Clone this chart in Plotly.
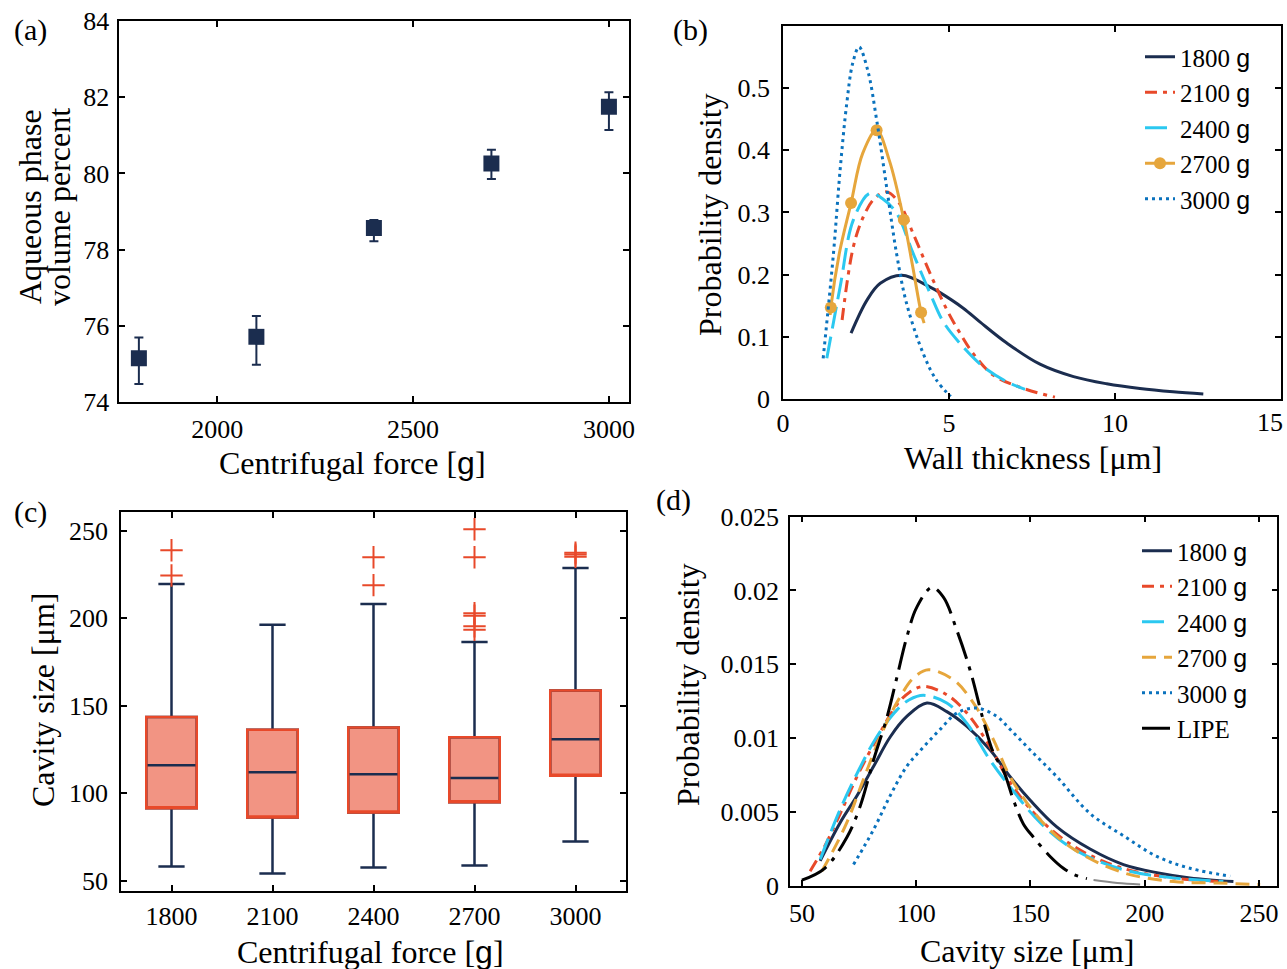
import plotly.graph_objects as go

W, H = 1287, 969
FONT = "Liberation Serif, Times New Roman, serif"
NAVY = "#1b2d4f"
RED = "#e8492a"
CYAN = "#2bc8f0"
ORANGE = "#e6a63c"
BLUE = "#0a72bd"
SALMON = "#f29483"
G = "<span style='font-family:Liberation Sans'>g</span>"

# ---------------- (a) aqueous phase volume percent ----------------
FORCE = [1800, 2100, 2400, 2700, 3000]
AQ_MEAN = [75.15, 75.71, 78.57, 80.26, 81.75]
AQ_UPPER = [75.69, 76.26, 78.78, 80.62, 82.13]
AQ_LOWER = [74.47, 74.98, 78.22, 79.85, 81.14]

# ---------------- (b) wall thickness pdf ----------------
B_XTICKS = [0, 5, 10, 15]
B1800_X = [2.05, 2.53, 2.93, 3.58, 4.43, 4.73, 5.43, 5.93, 6.74, 7.74, 8.75, 9.75, 10.75, 11.75, 12.66]
B1800_Y = [0.106, 0.159, 0.186, 0.199, 0.180, 0.171, 0.146, 0.124, 0.090, 0.056, 0.036, 0.0245, 0.0168, 0.0115, 0.0080]
B2100_X = [1.78, 2.12, 2.42, 2.75, 3.12, 3.5, 3.92, 4.43, 4.94, 5.33, 5.73, 6.33, 7.23, 8.19]
B2100_Y = [0.127, 0.245, 0.293, 0.322, 0.333, 0.315, 0.266, 0.202, 0.143, 0.106, 0.073, 0.0386, 0.0172, 0.003]
B2400_X = [1.32, 1.72, 2.12, 2.62, 3.0, 3.42, 3.92, 4.43, 4.83, 5.33, 6.03, 6.74, 7.29]
B2400_Y = [0.0654, 0.18, 0.288, 0.331, 0.322, 0.299, 0.234, 0.17, 0.124, 0.0895, 0.052, 0.0278, 0.0156]
B2700_X = [1.42, 1.44, 1.7, 2.05, 2.4, 2.82, 3.2, 3.64, 3.9, 4.16, 4.25]
B2700_Y = [0.135, 0.147, 0.235, 0.315, 0.395, 0.432, 0.384, 0.288, 0.215, 0.139, 0.122]
B2700_MX = [1.44, 2.05, 2.82, 3.64, 4.16]
B2700_MY = [0.147, 0.315, 0.432, 0.288, 0.139]
B3000_X = [1.21, 1.52, 1.72, 1.92, 2.1, 2.29, 2.55, 2.82, 3.12, 3.42, 3.72, 4.22, 4.62, 5.05]
B3000_Y = [0.0654, 0.234, 0.368, 0.475, 0.54, 0.566, 0.529, 0.449, 0.341, 0.234, 0.154, 0.0735, 0.0305, 0.004]

# ---------------- (c) cavity size box plot ----------------
CATS = ["1800", "2100", "2400", "2700", "3000"]
Q1 = [91.4, 86.0, 88.9, 94.8, 110.0]
MED = [116.0, 112.0, 110.8, 108.7, 130.8]
Q3 = [143.6, 136.2, 137.5, 132.0, 158.7]
WLO = [58.0, 54.0, 57.4, 58.6, 72.3]
WHI = [219.7, 196.4, 208.2, 186.5, 228.8]
OUT_X = ["1800", "1800", "2400", "2400", "2700", "2700", "2700", "2700", "2700", "2700", "3000", "3000", "3000"]
OUT_Y = [239.0, 224.5, 235.0, 219.0, 251.0, 235.0, 203.0, 201.5, 195.5, 193.5, 237.6, 236.5, 235.3]

# ---------------- (d) cavity size pdf ----------------
D1800_X = [58, 66.8, 74.1, 81.4, 88.7, 95.9, 104.7, 113.4, 122.2, 132.4, 141.1, 149.9, 161.5, 176.1, 190.7, 205.3, 219.8, 238.8]
D1800_Y = [0.0017, 0.0043, 0.0061, 0.0081, 0.0101, 0.01147, 0.01238, 0.0118, 0.0108, 0.0092, 0.0074, 0.0058, 0.0040, 0.0025, 0.00145, 0.0009, 0.00055, 0.0003]
D2100_X = [53.6, 60, 66.8, 74.1, 84.3, 91.5, 97, 103.2, 113.4, 122.2, 132.4, 141.1, 154.2, 168.8, 183.5, 198, 215, 232]
D2100_Y = [0.001, 0.0027, 0.0049, 0.0074, 0.0104, 0.01226, 0.0131, 0.0135, 0.01294, 0.0117, 0.0094, 0.0070, 0.0045, 0.0027, 0.00157, 0.0009, 0.0005, 0.0003]
D2400_X = [58, 66.8, 74.1, 82.8, 91.5, 97, 103.2, 113.4, 122.2, 132.4, 141.1, 154.2, 168.8, 190.7, 212.6, 234.4]
D2400_Y = [0.0018, 0.0052, 0.0076, 0.0101, 0.0119, 0.0126, 0.0129, 0.01238, 0.011, 0.0085, 0.0067, 0.0043, 0.0025, 0.0011, 0.00055, 0.0003]
D2700_X = [58.7, 63, 69.7, 76.9, 85.7, 93.0, 99, 105.4, 116.3, 125.1, 133.8, 141.1, 154.2, 168.8, 190.7, 212.6, 232, 250.5]
D2700_Y = [0.001, 0.0022, 0.0043, 0.0072, 0.0106, 0.0128, 0.0141, 0.01463, 0.01395, 0.01238, 0.0099, 0.0074, 0.0045, 0.0025, 0.0009, 0.0003, 0.0002, 0.0001]
D3000_X = [72.6, 81.3, 88.6, 95.9, 103.2, 110.5, 117.8, 126.5, 135.3, 141.1, 149.9, 161.5, 176.1, 190.7, 205.3, 219.8, 237.4]
D3000_Y = [0.00145, 0.0038, 0.0061, 0.0081, 0.0094, 0.0106, 0.0117, 0.01204, 0.01147, 0.0106, 0.0092, 0.0074, 0.0049, 0.0034, 0.002, 0.0012, 0.00066]
LIPE_X = [50, 60, 69.7, 75.5, 81.3, 87.2, 91.6, 95.9, 100.3, 106.9, 111.9, 117.8, 123.6, 129.4, 133.8, 138.2, 142.6, 146.9, 151.3, 158.6, 164.4, 169.6, 174.7]
LIPE_Y = [0.0004, 0.0012, 0.0033, 0.0054, 0.0085, 0.0114, 0.01414, 0.01684, 0.01887, 0.0202, 0.01955, 0.0173, 0.0146, 0.0112, 0.009, 0.0078, 0.0058, 0.0042, 0.0033, 0.002, 0.0012, 0.00074, 0.0005]
LIPE_TAIL_X = [177.6, 188, 198]
LIPE_TAIL_Y = [0.0004, 0.0002, 0.0001]


def px(x):
    return x / W


def py(y):
    return 1 - y / H


fig = go.Figure()

# (a)
fig.add_trace(go.Scatter(
    x=FORCE, y=AQ_MEAN, mode="markers", xaxis="x", yaxis="y", showlegend=False,
    marker=dict(symbol="square", size=16, color=NAVY),
    error_y=dict(type="data", symmetric=False,
                 array=[u - m for u, m in zip(AQ_UPPER, AQ_MEAN)],
                 arrayminus=[m - l for m, l in zip(AQ_MEAN, AQ_LOWER)],
                 color=NAVY, thickness=2, width=4.5)))


# (b)
def curve(x, y, name, color, dash, ax, legend, show=True, width=3):
    return go.Scatter(x=x, y=y, mode="lines", name=name, xaxis="x" + ax, yaxis="y" + ax,
                      line=dict(color=color, width=width, dash=dash, shape="spline", smoothing=1.0),
                      showlegend=show, legend=legend)


fig.add_trace(curve(B1800_X, B1800_Y, "1800 " + G, NAVY, "solid", "2", "legend"))
fig.add_trace(curve(B2100_X, B2100_Y, "2100 " + G, RED, "12px,6px,4px,6px", "2", "legend"))
fig.add_trace(curve(B2400_X, B2400_Y, "2400 " + G, CYAN, "22px,8px", "2", "legend"))
fig.add_trace(curve(B2700_X, B2700_Y, "2700 " + G, ORANGE, "solid", "2", "legend", show=False))
fig.add_trace(go.Scatter(x=B2700_MX, y=B2700_MY, mode="markers", xaxis="x2", yaxis="y2",
                         showlegend=False, marker=dict(size=12, color=ORANGE)))
fig.add_trace(go.Scatter(x=[None], y=[None], mode="lines+markers", name="2700 " + G,
                         xaxis="x2", yaxis="y2", legend="legend",
                         line=dict(color=ORANGE, width=3), marker=dict(size=12, color=ORANGE)))
fig.add_trace(curve(B3000_X, B3000_Y, "3000 " + G, BLUE, "3px,4px", "2", "legend"))

# (c)
fig.add_trace(go.Box(x=CATS, q1=Q1, median=MED, q3=Q3, lowerfence=WLO, upperfence=WHI,
                     xaxis="x3", yaxis="y3", width=0.5, whiskerwidth=0.52, boxpoints=False,
                     fillcolor=SALMON, line=dict(color=NAVY, width=2.5), showlegend=False))
fig.add_trace(go.Box(x=CATS, q1=Q1, median=Q1, q3=Q3, lowerfence=Q1, upperfence=Q3,
                     xaxis="x3", yaxis="y3", width=0.5, whiskerwidth=0, boxpoints=False,
                     fillcolor="rgba(0,0,0,0)", line=dict(color=RED, width=2.5), showlegend=False))
fig.add_trace(go.Scatter(x=OUT_X, y=OUT_Y, mode="markers", xaxis="x3", yaxis="y3", showlegend=False,
                         marker=dict(symbol="cross-thin", size=16, color=RED,
                                     line=dict(color=RED, width=2))))

# (d)
fig.add_trace(curve(D1800_X, D1800_Y, "1800 " + G, NAVY, "solid", "4", "legend2"))
fig.add_trace(curve(D2100_X, D2100_Y, "2100 " + G, RED, "12px,6px,4px,6px", "4", "legend2"))
fig.add_trace(curve(D2400_X, D2400_Y, "2400 " + G, CYAN, "22px,8px", "4", "legend2"))
fig.add_trace(curve(D2700_X, D2700_Y, "2700 " + G, ORANGE, "14px,8px", "4", "legend2"))
fig.add_trace(curve(D3000_X, D3000_Y, "3000 " + G, BLUE, "3px,4px", "4", "legend2"))
fig.add_trace(curve(LIPE_TAIL_X, LIPE_TAIL_Y, "LIPE tail", "#8a8a8a", "solid", "4", "legend2", show=False, width=2))
fig.add_trace(curve(LIPE_X, LIPE_Y, "LIPE", "black", "28px,8px,4px,8px", "4", "legend2"))

axis_style = dict(showline=True, linecolor="black", linewidth=1.5, mirror="ticks",
                  ticks="inside", ticklen=6, tickwidth=1.5, tickcolor="black",
                  showgrid=False, zeroline=False,
                  tickfont=dict(family=FONT, size=26, color="black"))

fig.update_layout(
    width=W, height=H, margin=dict(l=0, r=0, t=0, b=0, autoexpand=False),
    paper_bgcolor="white", plot_bgcolor="white",
    font=dict(family=FONT, size=26, color="black"),
    boxmode="overlay",
    xaxis=dict(domain=[px(119.3), px(628.5)], range=[1750, 3050], tickvals=[2000, 2500, 3000],
               anchor="y", ticklabelstandoff=3, **axis_style),
    yaxis=dict(domain=[py(402), py(21)], range=[74, 84], tickvals=[74, 76, 78, 80, 82, 84],
               anchor="x", ticklabelstandoff=3, **axis_style),
    xaxis2=dict(domain=[px(783), px(1281)], range=[0, 15], tickvals=B_XTICKS,
                ticktext=[str(v) if v != 15 else "" for v in B_XTICKS],
                anchor="y2", ticklabelstandoff=0, **axis_style),
    yaxis2=dict(domain=[py(399), py(25.8)], range=[0, 0.6], tickvals=[0, 0.1, 0.2, 0.3, 0.4, 0.5],
                anchor="x2", ticklabelstandoff=6, **axis_style),
    xaxis3=dict(domain=[px(121), px(626)], type="category", range=[-0.5, 4.5],
                anchor="y3", ticklabelstandoff=1, **axis_style),
    yaxis3=dict(domain=[py(891), py(512.3)], range=[44, 260.7], tickvals=[50, 100, 150, 200, 250],
                anchor="x3", ticklabelstandoff=6, **axis_style),
    xaxis4=dict(domain=[px(790), px(1277.3)], range=[44.8, 258], tickvals=[50, 100, 150, 200, 250],
                anchor="y4", ticklabelstandoff=3, **axis_style),
    yaxis4=dict(domain=[py(886), py(516.5)], range=[0, 0.025],
                tickvals=[0, 0.005, 0.01, 0.015, 0.02, 0.025],
                anchor="x4", ticklabelstandoff=4, **axis_style),
    legend=dict(x=px(1140), y=py(34), xanchor="left", yanchor="top",
                bgcolor="rgba(0,0,0,0)", font=dict(family=FONT, size=25),
                tracegroupgap=0, traceorder="normal"),
    legend2=dict(x=px(1137), y=py(528), xanchor="left", yanchor="top",
                 bgcolor="rgba(0,0,0,0)", font=dict(family=FONT, size=25),
                 tracegroupgap=0, traceorder="normal"),
)

ann = []


def add_text(text, x, y, size=32, angle=0):
    ann.append(dict(text=text, x=px(x), y=py(y), xref="paper", yref="paper",
                    xanchor="center", yanchor="middle", showarrow=False, textangle=angle,
                    font=dict(family=FONT, size=size, color="black")))


# panel labels
add_text("(a)", 30, 30, 30)
add_text("(b)", 690, 30, 30)
add_text("(c)", 30, 512, 30)
add_text("(d)", 673, 500, 30)
# last tick label of (b), kept inside the figure as in the reference
add_text(str(B_XTICKS[-1]), 1270, 423, 26)
# axis titles
add_text("Centrifugal force [" + G + "]", 352, 463)
add_text("Aqueous phase", 30, 207, 32, -90)
add_text("volume percent", 59, 207, 32, -90)
add_text("Wall thickness [μm]", 1033, 458)
add_text("Probability density", 710, 215, 32, -90)
add_text("Centrifugal force [" + G + "]", 370, 952)
add_text("Cavity size [μm]", 43, 700, 32, -90)
add_text("Cavity size [μm]", 1027, 951)
add_text("Probability density", 688, 685, 32, -90)

fig.update_layout(annotations=ann)
fig.write_html("out.html")
